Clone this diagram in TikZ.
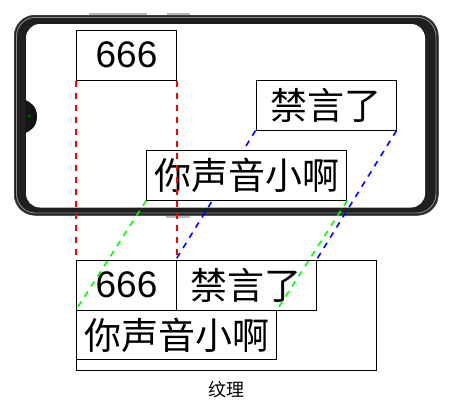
\documentclass[tikz,border=0pt]{standalone}
\usepackage{fontspec}
\setmainfont{Liberation Sans}
\newfontfamily\cjk{Noto Sans CJK SC}
\begin{document}
\begin{tikzpicture}[x=1pt,y=-1pt,
  txtbox/.style={draw=black, line width=1pt, fill=white, inner sep=0pt, minimum height=49.7pt, font=\fontsize{37}{40}\selectfont},
  cjkbox/.style={txtbox, font=\cjk\fontsize{37}{40}\selectfont},
  guide/.style={line width=1.6pt, dash pattern=on 6pt off 6pt},
]
\useasboundingbox (0,0) rectangle (453,413);
% phone body
\fill[black!88, rounded corners=21pt] (14,15) rectangle (438.5,215.5);
\draw[black!45, line width=0.9pt, rounded corners=19pt] (16.5,17.3) rectangle (436,213);
\draw[black!70, line width=0.6pt, rounded corners=21pt] (14.3,15.3) rectangle (438.2,215.2);
\fill[gray!55] (89,12.8) rectangle (147,15);
\fill[gray!55] (167,12.8) rectangle (190,15);
\fill[gray!55] (166,215.5) rectangle (190,218);
\fill[white, rounded corners=14pt] (26,24) rectangle (425,207.5);
% notch
\fill[black!92] (25.5,100) .. controls (30,102) and (37,106) .. (37,116.5) .. controls (37,127) and (30,131) .. (25.5,133) -- cycle;
\fill[black!70!green!60!black] (29,116) circle (2.6);
\fill[green!45!black] (29,116) circle (1);
% top boxes
\node[txtbox, minimum width=99.6pt] (a666) at (126.5,55.2) {666};
\node[cjkbox, minimum width=140pt] (ajin) at (326,105.2) {禁言了};
% bottom boxes
\node[draw=black, line width=1pt, inner sep=0pt, minimum width=299.3pt, minimum height=109.7pt] (big) at (226.35,315.15) {};
\node[txtbox, minimum width=99.6pt] (b666) at (126.5,285.15) {666};
\node[cjkbox, minimum width=139.7pt] (bjin) at (246.15,285.15) {禁言了};
\node[cjkbox, minimum width=200pt] (bni) at (176.7,335) {你声音小啊};
% blue guides (behind the middle box)
\draw[guide, blue] (ajin.south west) -- (bjin.north west);
\draw[guide, blue] (ajin.south east) -- (bjin.north east);
% middle box
\node[cjkbox, minimum width=200pt] (ani) at (246.7,175.3) {你声音小啊};
% red and green guides
\draw[guide, red] (a666.south west) -- (b666.north west);
\draw[guide, red] (a666.south east) -- (b666.north east);
\draw[guide, green] (ani.south west) -- (bni.north west);
\draw[guide, green] (ani.south east) -- (bni.north east);
% caption
\node[font=\cjk\fontsize{18}{20}\selectfont, inner sep=0pt] (cap) at (226,389.5) {纹理};
\end{tikzpicture}
\end{document}
